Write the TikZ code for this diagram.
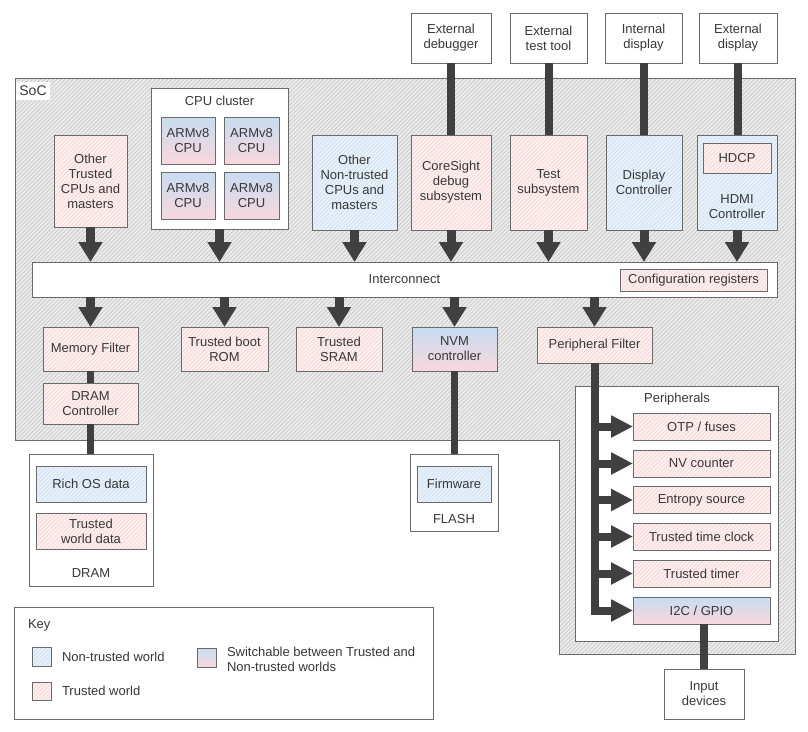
\documentclass[tikz,border=0pt]{standalone}
\usepackage{fontspec}
\setmainfont{Liberation Sans}
\usetikzlibrary{arrows.meta,patterns.meta}
\definecolor{bordercol}{HTML}{6A6A6A}
\definecolor{txtcol}{HTML}{383838}
\definecolor{arrowcol}{HTML}{404040}
\definecolor{socfill}{HTML}{EBEBEB}
\definecolor{sochatch}{HTML}{C4C4C4}
\definecolor{trfill}{HTML}{FDEFEF}
\definecolor{trhatch}{HTML}{F5D3D3}
\definecolor{ntfill}{HTML}{E8F1FA}
\definecolor{nthatch}{HTML}{CCDEF1}
\definecolor{gradtop}{HTML}{C8DCF1}
\definecolor{gradbot}{HTML}{F8D7DC}
\begin{document}
\begin{tikzpicture}[x=1pt,y=-1pt,
  font=\fontsize{13}{15}\selectfont, text=txtcol,
  box/.style={draw=bordercol, line width=0.8pt, inner sep=0pt, outer sep=0pt, align=center},
  wh/.style 2 args={minimum width=#1pt, minimum height=#2pt},
  plain/.style={fill=white},
  trusted/.style={preaction={fill=trfill}, pattern={Lines[angle=45,distance=2.9pt,line width=0.6pt]}, pattern color=trhatch},
  nontrusted/.style={preaction={fill=ntfill}, pattern={Lines[angle=45,distance=2.9pt,line width=0.6pt]}, pattern color=nthatch},
  switch/.style={top color=gradtop, bottom color=gradbot},
  lbl/.style={inner sep=0pt, outer sep=0pt, align=center},
  arr/.style={draw=arrowcol, line width=9pt, -{Triangle[length=20pt,width=23pt]}},
  parr/.style={draw=arrowcol, line width=8pt, -{Triangle[length=22pt,width=21pt]}},
  link/.style={draw=arrowcol, line width=7.5pt}
]
\useasboundingbox (0,0) rectangle (808,731);
\fill[white] (0,0) rectangle (808,731);

% SoC region
\path[draw=bordercol, line width=0.8pt, preaction={fill=socfill},
  pattern={Lines[angle=45,distance=2.9pt,line width=0.6pt]}, pattern color=sochatch]
  (15,78) -- (795,78) -- (795,654) -- (559,654) -- (559,440) -- (15,440) -- cycle;
\node[lbl, fill=white, minimum width=34pt, minimum height=18pt, font=\fontsize{14}{16}\selectfont] (soclbl) at (33,91) {SoC};

% external boxes
\node[box, plain, wh={80}{50}] (extdbg) at (451,38) {External\\debugger};
\node[box, plain, wh={77}{50}] (exttest) at (548.5,38) {External\\test tool};
\node[box, plain, wh={77}{50}] (intdisp) at (643.5,38) {Internal\\display};
\node[box, plain, wh={78}{50}] (extdisp) at (738,38) {External\\display};

% top row masters
\node[box, trusted, wh={73}{92}] (othertr) at (90.5,181) {Other\\Trusted\\CPUs and\\masters};
\node[box, plain, wh={137}{141}] (cpucl) at (219.5,158.5) {};
\node[lbl] (cpulbl) at (219.5,101) {CPU cluster};
\node[box, switch, wh={54}{47}] (cpua) at (188,140.5) {ARMv8\\CPU};
\node[box, switch, wh={55}{47}] (cpub) at (251.5,140.5) {ARMv8\\CPU};
\node[box, switch, wh={54}{47}] (cpuc) at (188,195.5) {ARMv8\\CPU};
\node[box, switch, wh={55}{47}] (cpud) at (251.5,195.5) {ARMv8\\CPU};
\node[box, nontrusted, wh={85}{95}] (nontr) at (354.5,182.5) {Other\\Non-trusted\\CPUs and\\masters};
\node[box, trusted, wh={80}{95}] (cores) at (451,182.5) {CoreSight\\debug\\subsystem};
\node[box, trusted, wh={77}{95}] (testsub) at (548.5,182.5) {Test\\subsystem};
\node[box, nontrusted, wh={76}{95}] (dispc) at (644,182.5) {Display\\Controller};
\node[box, nontrusted, wh={80}{95}] (hdmi) at (737,182.5) {};
\node[box, trusted, wh={68}{30}] (hdcp) at (737,158) {HDCP};
\node[lbl] (hdmilbl) at (737,207) {HDMI\\Controller};

% interconnect
\node[box, plain, wh={745}{35}] (ic) at (404.5,279.5) {Interconnect};
\node[box, trusted, wh={147}{22}] (cfg) at (693.5,280) {Configuration registers};

% bottom row
\node[box, trusted, wh={95}{44}] (mf) at (90.5,349) {Memory Filter};
\node[box, trusted, wh={95}{41}] (dramc) at (90.5,403.5) {DRAM\\Controller};
\node[box, trusted, wh={87}{44}] (rom) at (224.5,349) {Trusted boot\\ROM};
\node[box, trusted, wh={86}{44}] (sram) at (339,349) {Trusted\\SRAM};
\node[box, switch, wh={85}{44}] (nvm) at (454.5,349) {NVM\\controller};
\node[box, trusted, wh={115}{36}] (pf) at (594.5,345) {Peripheral Filter};

% DRAM and FLASH
\node[box, plain, wh={124}{132}] (dram) at (91,520) {};
\node[box, nontrusted, wh={110}{36}] (richos) at (91,484) {Rich OS data};
\node[box, trusted, wh={110}{36}] (twd) at (91,531) {Trusted\\world data};
\node[lbl] (dramlbl) at (91,573) {DRAM};
\node[box, plain, wh={88}{77}] (flash) at (454,492.5) {};
\node[box, nontrusted, wh={74}{36}] (fw) at (454,484) {Firmware};
\node[lbl] (flashlbl) at (454,519) {FLASH};

% peripherals
\node[box, plain, wh={203}{255}] (periph) at (676.5,513.5) {};
\node[lbl] (periphlbl) at (677,399) {Peripherals};
\node[box, trusted, wh={137}{27}] (otp) at (701.5,426.5) {OTP / fuses};
\node[box, trusted, wh={137}{27}] (nvc) at (701.5,463.5) {NV counter};
\node[box, trusted, wh={137}{27}] (ent) at (701.5,500) {Entropy source};
\node[box, trusted, wh={137}{27}] (ttc) at (701.5,536.5) {Trusted time clock};
\node[box, trusted, wh={137}{27}] (ttm) at (701.5,573.5) {Trusted timer};
\node[box, switch, wh={137}{27}] (i2c) at (701.5,610.5) {I2C / GPIO};
\node[box, plain, wh={80}{50}] (input) at (704,694) {Input\\devices};

% key
\node[box, plain, wh={419}{112}] (key) at (223.5,663) {};
\node[lbl, anchor=west] (keylbl) at (28,625) {Key};
\node[box, nontrusted, wh={19}{19}] (swnt) at (41.5,656.5) {};
\node[lbl, anchor=west] (swntlbl) at (62,657) {Non-trusted world};
\node[box, trusted, wh={19}{18}] (swtr) at (41.5,691) {};
\node[lbl, anchor=west] (swtrlbl) at (62,691) {Trusted world};
\node[box, switch, wh={19}{19}] (swsw) at (206.5,657.5) {};
\node[lbl, anchor=west, align=left] (swswlbl) at (227,659) {Switchable between Trusted and\\Non-trusted worlds};

% external links
\draw[link, line width=8pt] (extdbg.south) -- (extdbg.south |- cores.north);
\draw[link, line width=8pt] (exttest.south) -- (exttest.south |- testsub.north);
\draw[link, line width=8pt] (intdisp.south) -- (intdisp.south |- dispc.north);
\draw[link, line width=8pt] (extdisp.south) -- (extdisp.south |- hdmi.north);

% masters to interconnect
\foreach \n in {othertr,cpucl,nontr,cores,testsub,dispc,hdmi}
  \draw[arr] (\n.south) -- (\n.south |- ic.north);
% interconnect to slaves
\foreach \n in {mf,rom,sram,nvm,pf}
  \draw[arr] (ic.south -| \n.north) -- (\n.north);

\draw[link] (mf.south) -- (dramc.north);
\draw[link] (dramc.south) -- (dramc.south |- dram.north);
\draw[link] (nvm.south) -- (nvm.south |- flash.north);
\draw[link] (input.north) -- (input.north |- i2c.south);

% peripheral bus
\draw[parr] (pf.south) |- (i2c.west);
\foreach \n in {otp,nvc,ent,ttc,ttm}
  \draw[parr] (pf.south |- \n.west) -- (\n.west);
\end{tikzpicture}
\end{document}
